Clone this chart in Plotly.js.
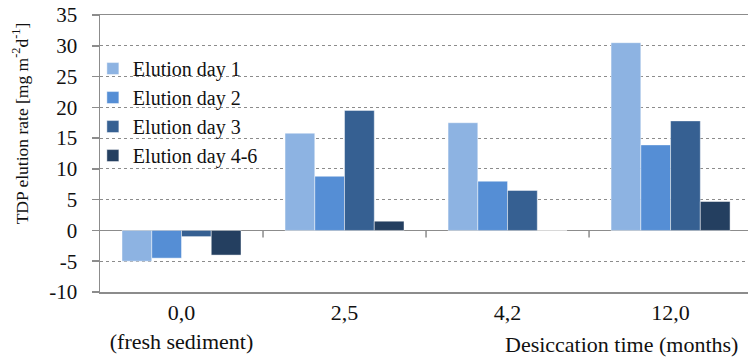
<!DOCTYPE html>
<html>
<head>
<meta charset="utf-8">
<script src="https://cdn.plot.ly/plotly-3.0.1.min.js"></script>
<style>html,body{margin:0;padding:0;background:#fff;}#chart{width:748px;height:358px;}</style>
</head>
<body>
<div id="chart"></div>
<script>
const categories = ["0,0<br>(fresh sediment)", "2,5", "4,2", "12,0"];
const seriesNames = ["Elution day 1", "Elution day 2", "Elution day 3", "Elution day 4-6"];
const day1 = [-5.0, 15.8, 17.5, 30.5];
const day2 = [-4.5, 8.8, 8.0, 13.9];
const day3 = [-1.0, 19.5, 6.5, 17.8];
const day46 = [-4.0, 1.5, 0, 4.7];
const yTicks = [-10, -5, 0, 5, 10, 15, 20, 25, 30, 35];
const colors = ["#8DB3E2", "#558ED5", "#366092", "#243F60"];

const seriesValues = [day1, day2, day3, day46];
const FONT = "Liberation Serif";

const traces = seriesValues.map((vals, i) => ({
  type: "bar",
  name: seriesNames[i],
  x: categories,
  y: vals,
  marker: { color: colors[i], line: { color: "rgba(255,255,255,0.45)", width: 1 } },
  legendgroup: "g" + i,
  hoverinfo: "skip"
}));

const boundaryShapes = [0.5, 1.5, 2.5].map(b => ({
  type: "line", xref: "x", yref: "y", x0: b, x1: b,
  ysizemode: "pixel", yanchor: 0, y0: 0, y1: -7,
  line: { color: "#8c8c8c", width: 1.5 }
}));

const layout = {
  width: 748, height: 358,
  margin: { l: 100, r: 0, t: 15, b: 65.5, pad: 0 },
  paper_bgcolor: "#ffffff", plot_bgcolor: "#ffffff",
  font: { family: FONT, color: "#111111", size: 20 },
  barmode: "group", bargap: 0.27, bargroupgap: 0,
  showlegend: true,
  legend: {
    x: -0.011, y: 0.877, xanchor: "left", yanchor: "top",
    bgcolor: "rgba(0,0,0,0)", font: { family: FONT, size: 20, color: "#111111" },
    tracegroupgap: 0, itemwidth: 30
  },
  xaxis: {
    type: "category", range: [-0.5, 3.475], fixedrange: true,
    showgrid: false, zeroline: false, ticks: "",
    showline: true, mirror: true, linecolor: "#8c8c8c", linewidth: 1.5,
    tickfont: { family: FONT, size: 22, color: "#111111" },
    ticklabelstandoff: 0
  },
  yaxis: {
    range: [-10, 35], tickvals: yTicks, ticktext: yTicks.map(String),
    showgrid: true, gridcolor: "#8c8c8c", griddash: "dot", gridwidth: 1,
    zeroline: true, zerolinecolor: "#8c8c8c", zerolinewidth: 1.5,
    showline: true, linecolor: "#8c8c8c", linewidth: 1.5,
    ticks: "outside", ticklen: 7, tickcolor: "#8c8c8c", tickwidth: 1.5,
    tickfont: { family: FONT, size: 21, color: "#111111" },
    ticklabelstandoff: 10, fixedrange: true
  },
  shapes: boundaryShapes,
  annotations: [
    {
      text: "TDP elution rate [mg m<sup>-2</sup>d<sup>-1</sup>]",
      xref: "paper", yref: "paper", x: -0.123, y: 0.61,
      xanchor: "center", yanchor: "middle", textangle: -90, showarrow: false,
      font: { family: FONT, size: 17.5, color: "#111111" }
    },
    {
      text: "Desiccation time (months)",
      xref: "paper", yref: "paper", x: 0.987, y: -0.189,
      xanchor: "right", yanchor: "middle", showarrow: false,
      font: { family: FONT, size: 22, color: "#111111" }
    }
  ]
};

Plotly.newPlot("chart", traces, layout, { displayModeBar: false, staticPlot: true });
</script>
</body>
</html>
